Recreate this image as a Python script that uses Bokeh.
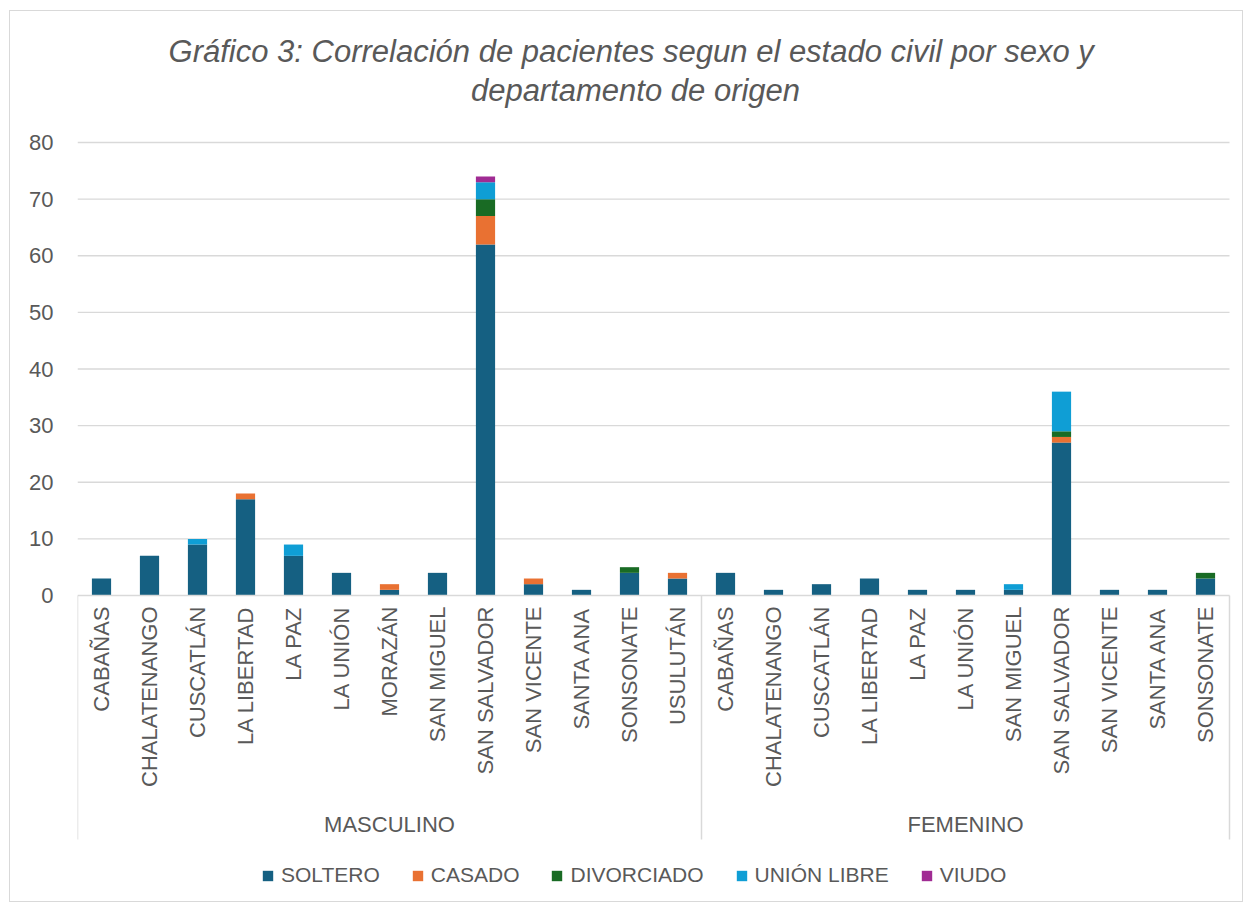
import numpy as np
from bokeh.plotting import figure
from bokeh.models import Range1d, FixedTicker, Legend, LegendItem, ColumnDataSource
from bokeh.core.properties import value
from bokeh.embed import file_html
from bokeh.resources import INLINE

# ---------------- data ----------------
sexes = ["MASCULINO", "FEMENINO"]
deps_m = ["CABAÑAS", "CHALATENANGO", "CUSCATLÁN", "LA LIBERTAD", "LA PAZ", "LA UNIÓN",
          "MORAZÁN", "SAN MIGUEL", "SAN SALVADOR", "SAN VICENTE", "SANTA ANA",
          "SONSONATE", "USULUTÁN"]
deps_f = ["CABAÑAS", "CHALATENANGO", "CUSCATLÁN", "LA LIBERTAD", "LA PAZ", "LA UNIÓN",
          "SAN MIGUEL", "SAN SALVADOR", "SAN VICENTE", "SANTA ANA", "SONSONATE"]
series = ["SOLTERO", "CASADO", "DIVORCIADO", "UNIÓN LIBRE", "VIUDO"]
colors = ["#156082", "#E97132", "#196B24", "#0F9ED5", "#A02B93"]

soltero_m = [3, 7, 9, 17, 7, 4, 1, 4, 62, 2, 1, 4, 3]
casado_m = [0, 0, 0, 1, 0, 0, 1, 0, 5, 1, 0, 0, 1]
divorciado_m = [0, 0, 0, 0, 0, 0, 0, 0, 3, 0, 0, 1, 0]
union_m = [0, 0, 1, 0, 2, 0, 0, 0, 3, 0, 0, 0, 0]
viudo_m = [0, 0, 0, 0, 0, 0, 0, 0, 1, 0, 0, 0, 0]

soltero_f = [4, 1, 2, 3, 1, 1, 1, 27, 1, 1, 3]
casado_f = [0, 0, 0, 0, 0, 0, 0, 1, 0, 0, 0]
divorciado_f = [0, 0, 0, 0, 0, 0, 0, 1, 0, 0, 1]
union_f = [0, 0, 0, 0, 0, 0, 1, 7, 0, 0, 0]
viudo_f = [0, 0, 0, 0, 0, 0, 0, 0, 0, 0, 0]

y_ticks = [0, 10, 20, 30, 40, 50, 60, 70, 80]

title_lines = ["Gráfico 3: Correlación de pacientes segun el estado civil  por sexo y",
               "departamento de origen"]

# ---------------- layout helpers (page pixel coordinates) ----------------
BASE = 2                     # where the figure lands with no extra margin
OX, OY = 11, 12              # wanted page position of the figure's top-left corner
W, H = 1234, 892
FRAME_LEFT_PAGE = 78
UNIT = 48.0                  # px per category
PX_PER_V = 453.0 / 80.0      # px per value unit
ZERO_PAGE = 596.0


def fx(px):
    return (px - FRAME_LEFT_PAGE) / UNIT


def fy(py):
    return (ZERO_PAGE - py) / PX_PER_V


FONT = value("Liberation Sans")
GREY = "#595959"
LINE = "#d9d9d9"

n_m, n_f = len(deps_m), len(deps_f)
n = n_m + n_f
all_deps = deps_m + deps_f
xs = list(np.arange(n) + 0.5)

data = dict(x=xs)
stacks = [soltero_m + soltero_f, casado_m + casado_f, divorciado_m + divorciado_f,
          union_m + union_f, viudo_m + viudo_f]
for s, v in zip(series, stacks):
    data[s] = v
source = ColumnDataSource(data)

p = figure(width=W, height=H, output_backend="svg", toolbar_location=None,
           x_range=Range1d(0, fx(OX + W)), y_range=Range1d(fy(OY + H), fy(OY)),
           min_border_left=FRAME_LEFT_PAGE - OX, min_border_right=0,
           min_border_top=0, min_border_bottom=0, x_axis_location=None)
p.styles = {"border": "1px solid #d9d9d9", "margin-left": "%dpx" % (OX - BASE),
            "margin-top": "%dpx" % (OY - BASE)}
p.outline_line_color = None
p.xgrid.visible = False
p.ygrid.visible = False

# y axis
ax = p.yaxis[0]
ax.ticker = FixedTicker(ticks=y_ticks)
ax.axis_line_color = None
ax.major_tick_line_color = None
ax.minor_tick_line_color = None
ax.major_tick_in = 0
ax.major_tick_out = 0
ax.major_label_standoff = 24
ax.major_label_text_font_size = "22px"
ax.major_label_text_color = GREY
ax.major_label_text_font = "Liberation Sans"

# gridlines
gy = [t for t in y_ticks if t > 0]
p.segment(x0=[0] * len(gy), x1=[n] * len(gy), y0=gy, y1=gy, line_color=LINE, line_width=1.3)

# bars
rs = p.vbar_stack(series, x="x", width=0.4, color=colors, source=source, line_color=None)

# baseline and separators
p.segment(x0=[0], x1=[n], y0=[0], y1=[0], line_color=LINE, line_width=1.5)
seps = [0, n_m, n]
p.segment(x0=seps, x1=seps, y0=[0] * 3, y1=[fy(840)] * 3, line_color=LINE, line_width=1.5)

# category labels
p.text(x=xs, y=[fy(607)] * n, text=all_deps, angle=np.pi / 2, text_align="right",
       text_baseline="middle", text_font=FONT, text_font_size="22px", text_color=GREY)

# group labels
p.text(x=[n_m / 2, n_m + n_f / 2], y=[fy(825)] * 2, text=sexes, text_align="center",
       text_baseline="middle", text_font=FONT, text_font_size="22px", text_color=GREY)

# title
p.text(x=[fx(636)] * 2, y=[fy(52), fy(91)], text=title_lines, text_align="center",
       text_baseline="middle", text_font=FONT, text_font_style="italic",
       text_font_size="31px", text_color=GREY)

# legend
items = [LegendItem(label=s, renderers=[r]) for s, r in zip(series, rs)]
legend = Legend(items=items, orientation="horizontal",
                location=(262 - FRAME_LEFT_PAGE, OY + H - 888),
                glyph_width=13, glyph_height=13, label_standoff=7, spacing=31,
                padding=0, margin=0, border_line_color=None, background_fill_alpha=0,
                label_text_font_size="21px", label_text_color=GREY,
                label_text_font="Liberation Sans", label_height=20)
p.add_layout(legend)

open("out.html", "w").write(file_html(p, INLINE))
